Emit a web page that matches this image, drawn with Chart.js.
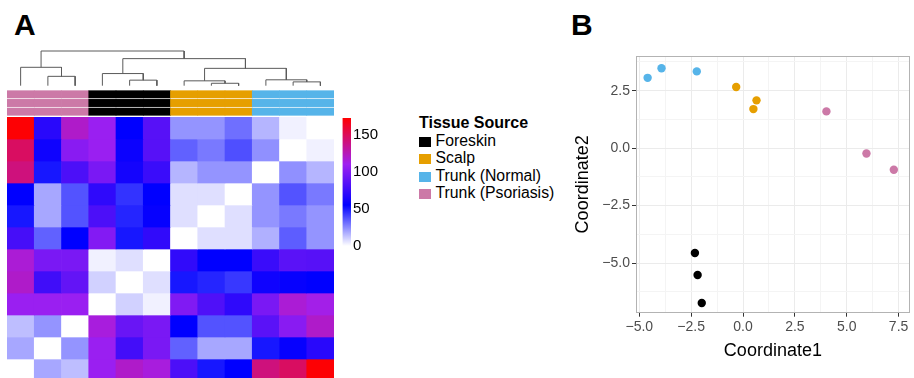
<!DOCTYPE html>
<html>
<head>
<meta charset="utf-8">
<script src="https://cdn.jsdelivr.net/npm/chart.js@4.4.0/dist/chart.umd.min.js"></script>
<style>
body { margin: 0; width: 914px; height: 378px; overflow: hidden; background: #fff; position: relative;
       font-family: "Liberation Sans", Arial, sans-serif; }
.abs { position: absolute; }
.panel { font-weight: bold; font-size: 30px; line-height: 30px; }
.legend-title { font-weight: bold; font-size: 16px; line-height: 18px; white-space: nowrap; }
.legend-item { font-size: 15.8px; line-height: 17.5px; white-space: nowrap; }
.legend-item span { display: inline-block; width: 12px; height: 10px; margin-right: 4.5px; vertical-align: -1px; }
</style>
</head>
<body>
<div class="abs panel" style="left:14px;top:10px">A</div>
<div class="abs panel" style="left:571px;top:10px">B</div>

<canvas id="dendro" class="abs" width="327" height="40" style="left:7px;top:48px"></canvas>
<canvas id="annot" class="abs" width="327" height="26" style="left:7px;top:90px"></canvas>
<canvas id="heat" class="abs" width="327" height="264" style="left:7px;top:117px"></canvas>
<canvas id="cbar" class="abs" width="52" height="150" style="left:340px;top:107px"></canvas>

<div class="abs" style="left:419px;top:113.8px">
  <div class="legend-title">Tissue Source</div>
  <div id="legendItems"></div>
</div>

<canvas id="mds" class="abs" width="354" height="338" style="left:560px;top:40px"></canvas>

<script>
// groups / colours
const groupNames = ['Foreskin', 'Scalp', 'Trunk (Normal)', 'Trunk (Psoriasis)'];
const groupColors = ['#000000', '#E69F00', '#56B4E9', '#CC79A7'];

// heatmap columns (clustered order) and their tissue group
const sampleNames = ['P1', 'P2', 'P3', 'F1', 'F2', 'F3', 'S1', 'S2', 'S3', 'N1', 'N2', 'N3'];
const sampleGroup = [3, 3, 3, 0, 0, 0, 1, 1, 1, 2, 2, 2];

// distance values, one row per heatmap row (top to bottom)
const heatValues = [
  [171, 69, 120, 108, 55, 85, 23, 23, 31, 16, 3, 0],
  [147, 60, 102, 108, 59, 85, 34, 29, 38, 24, 0, 3],
  [140, 50, 81, 97, 62, 75, 16, 23, 23, 0, 24, 16],
  [55, 19, 37, 71, 44, 55, 7, 7, 0, 23, 37, 29],
  [50, 19, 37, 81, 47, 57, 7, 0, 7, 23, 29, 23],
  [79, 34, 55, 100, 50, 72, 0, 7, 7, 17, 35, 23],
  [117, 97, 97, 3, 7, 0, 72, 55, 55, 75, 86, 85],
  [120, 77, 89, 10, 0, 7, 50, 47, 43, 60, 57, 55],
  [108, 108, 108, 0, 10, 3, 99, 82, 71, 97, 117, 112],
  [14, 23, 0, 115, 91, 97, 55, 37, 37, 86, 102, 120],
  [19, 0, 23, 108, 78, 97, 34, 19, 19, 50, 57, 69],
  [0, 19, 14, 108, 120, 115, 81, 50, 55, 140, 147, 171]
];

// colour scale
const scaleStops = [0, 55, 110, 172];
const scaleColors = ['#FFFFFF', '#0000FF', '#A020F0', '#FF0000'];
const scaleTicks = [0, 50, 100, 150];

// column dendrogram (hclust style merges: negative = leaf number)
const dendroMerge = [[-2, -3], [-1, 1], [-5, -6], [-4, 3], [-8, -9], [-7, 5], [-11, -12], [-10, 7], [6, 8], [4, 9], [2, 10]];
const dendroHeight = [27, 53, 16, 35, 7, 14, 11, 17, 50, 78, 100];

// MDS coordinates
const coord1 = [-4.6, -3.93, -2.23, -0.33, 0.65, 0.5, 4.02, 5.95, 7.27, -2.32, -2.19, -1.99];
const coord2 = [3.06, 3.48, 3.34, 2.66, 2.08, 1.70, 1.60, -0.23, -0.94, -4.56, -5.52, -6.74];
const coordGroup = [2, 2, 2, 1, 1, 1, 3, 3, 3, 0, 0, 0];
const xMajor = [-5, -2.5, 0, 2.5, 5, 7.5];
const xMinor = [-3.75, -1.25, 1.25, 3.75, 6.25];
const yMajor = [-5, -2.5, 0, 2.5];
const yMinor = [-6.25, -3.75, -1.25, 1.25, 3.75];

const FONT = '"Liberation Sans", Arial, sans-serif';
Chart.defaults.font.family = FONT;
Chart.defaults.animation = false;
Chart.defaults.responsive = false;
Chart.defaults.plugins.legend.display = false;
Chart.defaults.plugins.tooltip.enabled = false;

function hexRgb(h) {
  return [parseInt(h.slice(1, 3), 16), parseInt(h.slice(3, 5), 16), parseInt(h.slice(5, 7), 16)];
}
function valueColor(v) {
  let i = 0;
  while (i < scaleStops.length - 2 && v > scaleStops[i + 1]) i++;
  const t = Math.min(1, Math.max(0, (v - scaleStops[i]) / (scaleStops[i + 1] - scaleStops[i])));
  const a = hexRgb(scaleColors[i]), b = hexRgb(scaleColors[i + 1]);
  return 'rgb(' + a.map((c, k) => Math.round(c + (b[k] - c) * t)).join(',') + ')';
}

// ---- heatmap
new Chart(document.getElementById('heat'), {
  type: 'bar',
  data: {
    labels: sampleNames,
    datasets: heatValues.map((row, r) => ({
      data: row.map(() => [r, r + 1]),
      backgroundColor: row.map(valueColor),
      borderWidth: 0,
      barPercentage: 1,
      categoryPercentage: 1,
      grouped: false
    }))
  },
  options: {
    layout: { padding: 0 },
    scales: {
      x: { display: false },
      y: { display: false, min: 0, max: 12, reverse: true }
    }
  }
});

// ---- annotation bars (three rows)
new Chart(document.getElementById('annot'), {
  type: 'bar',
  data: {
    labels: sampleNames,
    datasets: [0, 1, 2].map(r => ({
      data: sampleNames.map(() => [r + 0.08, r + 0.92]),
      backgroundColor: sampleGroup.map(g => groupColors[g]),
      borderWidth: 0,
      barPercentage: 1,
      categoryPercentage: 1,
      grouped: false
    }))
  },
  options: {
    scales: {
      x: { display: false },
      y: { display: false, min: 0, max: 3, reverse: true }
    }
  }
});

// ---- dendrogram
const nodeX = [], nodeH = [];
const childPos = c => c < 0 ? { x: -c - 1, h: 0 } : { x: nodeX[c - 1], h: nodeH[c - 1] };
const dendroSets = dendroMerge.map((m, i) => {
  const a = childPos(m[0]), b = childPos(m[1]);
  nodeX[i] = (a.x + b.x) / 2;
  nodeH[i] = dendroHeight[i];
  return {
    data: [{ x: a.x, y: a.h }, { x: a.x, y: dendroHeight[i] }, { x: b.x, y: dendroHeight[i] }, { x: b.x, y: b.h }],
    showLine: true,
    borderColor: '#5a5a5a',
    borderWidth: 1,
    pointRadius: 0,
    clip: false
  };
});
new Chart(document.getElementById('dendro'), {
  type: 'scatter',
  data: { datasets: dendroSets },
  options: {
    layout: { padding: { top: 3, bottom: 2.3, left: 0, right: 0 } },
    scales: {
      x: { display: false, min: -0.5, max: 11.5 },
      y: { display: false, min: 0, max: Math.max(...dendroHeight) }
    }
  }
});

// ---- colour bar
new Chart(document.getElementById('cbar'), {
  type: 'bar',
  data: {
    labels: ['scale'],
    datasets: [{
      data: [[0, scaleStops[scaleStops.length - 1]]],
      borderWidth: 0,
      barPercentage: 1,
      categoryPercentage: 1,
      backgroundColor: (c) => {
        const ch = c.chart;
        if (!ch.chartArea) return '#fff';
        const y = ch.scales.y;
        const top = scaleStops[scaleStops.length - 1];
        const g = ch.ctx.createLinearGradient(0, y.getPixelForValue(0), 0, y.getPixelForValue(top));
        scaleStops.forEach((s, i) => g.addColorStop(s / top, scaleColors[i]));
        return g;
      }
    }]
  },
  options: {
    layout: { padding: { left: 2.5, top: 10.3, bottom: 10.5, right: 0 } },
    scales: {
      x: { display: false },
      y: {
        position: 'right',
        min: 0, max: scaleStops[scaleStops.length - 1],
        grid: { display: false, drawTicks: false },
        border: { display: false },
        afterFit: a => { a.width = 41; },
        afterBuildTicks: a => { a.ticks = scaleTicks.map(v => ({ value: v })); },
        ticks: { padding: 2, color: '#000', font: { size: 15 } }
      }
    }
  }
});

// ---- legend
document.getElementById('legendItems').innerHTML = groupNames.map((n, i) =>
  '<div class="legend-item"><span style="background:' + groupColors[i] + '"></span>' + n + '</div>').join('');

// ---- MDS scatter
const fmt = v => v.toFixed(1).replace('-', '\u2212');
const isMajor = (list, v) => list.some(m => Math.abs(m - v) < 1e-9);
const panelBorder = {
  id: 'panelBorder',
  afterDraw(chart) {
    const { ctx, chartArea: a } = chart;
    ctx.save();
    ctx.strokeStyle = '#b3b3b3';
    ctx.lineWidth = 1;
    ctx.strokeRect(Math.round(a.left) + 0.5, Math.round(a.top) + 0.5, Math.round(a.width) - 1, Math.round(a.height) - 1);
    ctx.restore();
  }
};
function axisOpts(major, minor, min, max, title) {
  return {
    type: 'linear', min: min, max: max,
    afterBuildTicks: a => { a.ticks = major.concat(minor).sort((p, q) => p - q).map(v => ({ value: v })); },
    grid: {
      color: c => isMajor(major, c.tick.value) ? '#ebebeb' : '#f4f4f4',
      lineWidth: 1,
      tickLength: 4,
      tickColor: c => isMajor(major, c.tick.value) ? '#333333' : 'rgba(0,0,0,0)'
    },
    border: { display: false },
    ticks: {
      autoSkip: false, maxRotation: 0, padding: 2,
      color: '#4d4d4d', font: { size: 14 },
      callback: v => isMajor(major, v) ? fmt(v) : ''
    },
    title: { display: true, text: title, color: '#000', font: { size: 18 } }
  };
}
const xAxis = axisOpts(xMajor, xMinor, -5.16, 8.04, 'Coordinate1');
xAxis.afterFit = a => { a.height = 65.3; };
xAxis.title.padding = { top: 0, bottom: 16 };
const yAxis = axisOpts(yMajor, yMinor, -7.16, 4.01, 'Coordinate2');
yAxis.afterFit = a => { a.width = 76; };
yAxis.title.padding = { top: 12, bottom: 0 };

new Chart(document.getElementById('mds'), {
  type: 'scatter',
  data: {
    datasets: groupNames.map((n, g) => ({
      label: n,
      data: coord1.map((x, i) => ({ x: x, y: coord2[i], g: coordGroup[i] })).filter(p => p.g === g),
      backgroundColor: groupColors[g],
      borderWidth: 0,
      pointRadius: 4.2
    }))
  },
  options: {
    layout: { padding: { top: 16, right: 2, left: 0, bottom: 0 } },
    scales: { x: xAxis, y: yAxis }
  },
  plugins: [panelBorder]
});
</script>
</body>
</html>
